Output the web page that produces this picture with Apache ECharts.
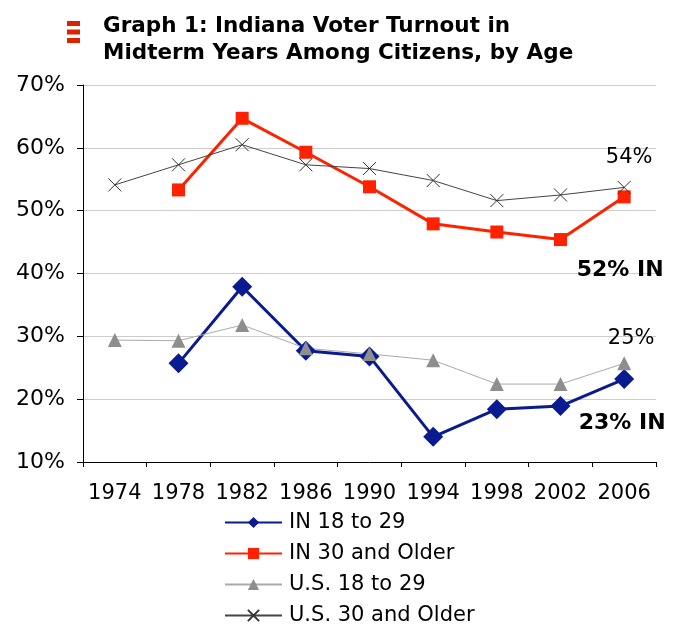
<!DOCTYPE html>
<html>
<head>
<meta charset="utf-8">
<script src="https://cdn.jsdelivr.net/npm/echarts@6/dist/echarts.min.js"></script>
<style>html,body{margin:0;padding:0;background:#fff}#c{width:685px;height:627px}</style>
</head>
<body>
<div id="c"></div>
<script>
var years = ['1974','1978','1982','1986','1990','1994','1998','2002','2006'];
var in18 = [null, 25.7, 37.9, 27.7, 26.8, 14.0, 18.4, 18.9, 23.2];
var in30 = [null, 53.3, 64.7, 59.3, 53.8, 47.9, 46.6, 45.4, 52.2];
var us18 = [29.4, 29.3, 31.8, 28.1, 27.2, 26.2, 22.4, 22.4, 25.7];
var us30 = [54.1, 57.3, 60.5, 57.3, 56.7, 54.8, 51.6, 52.5, 53.7];
var yTicks = [10, 70, 10]; // min, max, interval

var FONT = 'DejaVu Sans';
function lastLabel(arr, cfg) {
  return arr.map(function (v, i) {
    if (i === arr.length - 1) return { value: v, label: Object.assign({ show: true, fontFamily: FONT, fontSize: 21, color: '#000' }, cfg) };
    return v;
  });
}

var chart = echarts.init(document.getElementById('c'), null, { renderer: 'canvas' });
chart.setOption({
  animation: false,
  backgroundColor: '#fff',
  textStyle: { fontFamily: FONT },
  title: {
    text: 'Graph 1: Indiana Voter Turnout in\nMidterm Years Among Citizens, by Age',
    left: 103, top: 13, padding: 0,
    textStyle: { fontFamily: FONT, fontSize: 21.5, fontWeight: 'bold', color: '#000', lineHeight: 27 }
  },
  graphic: [
    { type: 'rect', shape: { x: 67, y: 21, width: 13, height: 5 }, style: { fill: '#dd2200' } },
    { type: 'rect', shape: { x: 67, y: 29.5, width: 13, height: 5 }, style: { fill: '#dd2200' } },
    { type: 'rect', shape: { x: 67, y: 38, width: 13, height: 5 }, style: { fill: '#dd2200' } }
  ],
  grid: { left: 83, right: 29, top: 85, bottom: 165, containLabel: false },
  legend: {
    orient: 'vertical', left: 224, top: 512, height: 130, padding: 0,
    itemWidth: 57, itemHeight: 14, itemGap: 10,
    textStyle: { fontFamily: FONT, fontSize: 21, color: '#000', lineHeight: 21, padding: [0, 0, 0, 2] },
    data: ['IN 18 to 29', 'IN 30 and Older', 'U.S. 18 to 29', 'U.S. 30 and Older']
  },
  xAxis: {
    type: 'category', data: years, boundaryGap: true,
    axisLine: { lineStyle: { color: '#000', width: 1 } },
    axisTick: { show: true, length: 5, lineStyle: { color: '#000' } },
    axisLabel: { interval: 0, fontFamily: FONT, fontSize: 21, color: '#000', margin: 21 },
    splitLine: { show: false }
  },
  yAxis: {
    type: 'value', min: yTicks[0], max: yTicks[1], interval: yTicks[2],
    axisLine: { show: true, lineStyle: { color: '#000', width: 1 } },
    axisTick: { show: true, length: 6, lineStyle: { color: '#000' } },
    axisLabel: { formatter: '{value}%', fontFamily: FONT, fontSize: 22, color: '#000', margin: 18 },
    splitLine: { show: true, lineStyle: { color: '#cccccc', width: 1 } }
  },
  series: [
    {
      name: 'IN 18 to 29', type: 'line', data: lastLabel(in18, { formatter: '23% IN', fontWeight: 'bold', fontSize: 22, position: 'bottom', distance: 23, offset: [-2, 0] }),
      symbol: 'diamond', symbolSize: 20, connectNulls: false,
      lineStyle: { color: '#0a1a8f', width: 3 },
      itemStyle: { color: '#0a1a8f' }
    },
    {
      name: 'IN 30 and Older', type: 'line', data: lastLabel(in30, { formatter: '52% IN', fontWeight: 'bold', fontSize: 22, position: 'bottom', distance: 56, offset: [-4, 0] }),
      symbol: 'rect', symbolSize: 13,
      lineStyle: { color: '#ff2200', width: 3 },
      itemStyle: { color: '#ff2200' }
    },
    {
      name: 'U.S. 18 to 29', type: 'line', data: lastLabel(us18, { formatter: '25%', position: 'top', distance: 7, offset: [7, 0] }),
      symbol: 'triangle', symbolSize: 14,
      lineStyle: { color: '#aaaaaa', width: 1 },
      itemStyle: { color: '#8e8e8e' }
    },
    {
      name: 'U.S. 30 and Older', type: 'line', data: lastLabel(us30, { formatter: '54%', position: 'top', distance: 12, offset: [5, 0] }),
      symbol: 'path://M0,0L10,10M10,0L0,10', symbolSize: 13,
      lineStyle: { color: '#444444', width: 1 },
      itemStyle: { color: 'rgba(0,0,0,0)', borderColor: '#333333', borderWidth: 1 }
    }
  ]
});
</script>
</body>
</html>
